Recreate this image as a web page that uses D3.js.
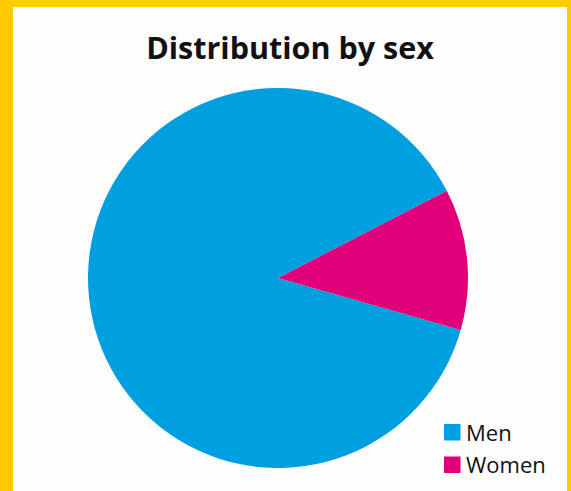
<!DOCTYPE html>
<html>
<head>
<meta charset="utf-8">
<script src="https://cdn.jsdelivr.net/npm/d3@7"></script>
<style>
  html, body { margin: 0; padding: 0; background: #ffffff; }
  svg { display: block; }
</style>
</head>
<body>
<script>
// Data
const categories = ["Men", "Women"];
const values = [88, 12];
const colors = ["#009fe0", "#e2007a"];
const title = "Distribution by sex";

const W = 571, H = 491;
const svg = d3.select("body").append("svg")
  .attr("width", W).attr("height", H);

// Page background and yellow frame
svg.append("rect").attr("width", W).attr("height", H).attr("fill", "#fdfdfd");
svg.append("rect").attr("x", 0).attr("y", 0).attr("width", 13).attr("height", H).attr("fill", "#ffcc00");
svg.append("rect").attr("x", 0).attr("y", 0).attr("width", W).attr("height", 7).attr("fill", "#ffcc00");
svg.append("rect").attr("x", 567).attr("y", 0).attr("width", 4).attr("height", H).attr("fill", "#ffcc00");

// Title
svg.append("text")
  .attr("x", 290).attr("y", 59)
  .attr("text-anchor", "middle")
  .attr("font-family", "'Open Sans', sans-serif")
  .attr("font-weight", 700)
  .attr("font-size", 30.5)
  .attr("fill", "#111")
  .text(title);

// Pie
const cx = 278, cy = 278, r = 190;
const color = d3.scaleOrdinal().domain(categories).range(colors);
const start = 105.9 * Math.PI / 180;
const pie = d3.pie().sort(null).value(d => d.v)
  .startAngle(start).endAngle(start + 2 * Math.PI);
const arc = d3.arc().innerRadius(0).outerRadius(r);
const data = categories.map((c, i) => ({ c, v: values[i] }));

svg.append("g").attr("transform", `translate(${cx},${cy})`)
  .selectAll("path").data(pie(data)).join("path")
  .attr("d", arc)
  .attr("fill", d => color(d.data.c));

// Legend
const lg = svg.append("g").attr("transform", "translate(444,424)");
const item = lg.selectAll("g").data(categories).join("g")
  .attr("transform", (d, i) => `translate(0,${i * 32.5})`);
item.append("rect").attr("width", 16.5).attr("height", 16.5)
  .attr("fill", d => color(d));
item.append("text")
  .attr("x", 22).attr("y", 16.5)
  .attr("font-family", "'Open Sans', sans-serif")
  .attr("font-size", 22)
  .attr("fill", "#111")
  .text(d => d);
</script>
</body>
</html>
